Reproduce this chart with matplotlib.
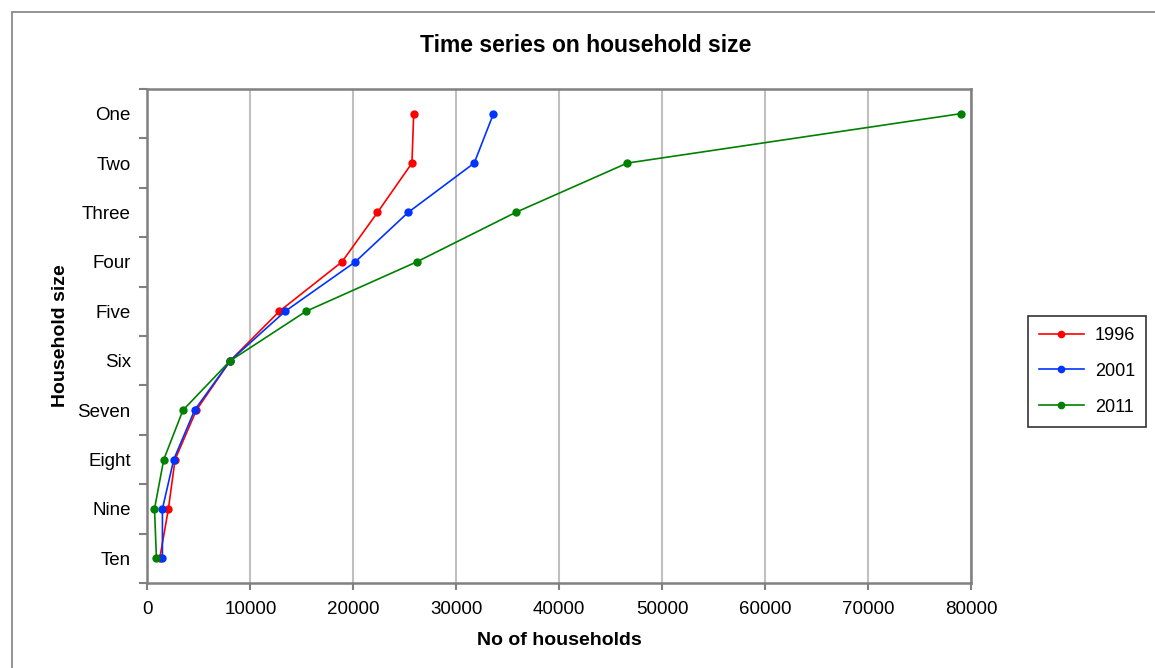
import matplotlib
matplotlib.use("Agg")
import matplotlib.pyplot as plt
from matplotlib.patches import Rectangle
import numpy as np

plt.rcParams['font.family'] = ['Liberation Sans', 'DejaVu Sans']

sizes = ["One", "Two", "Three", "Four", "Five", "Six", "Seven", "Eight", "Nine", "Ten"]
years = ["1996", "2001", "2011"]
hh_1996 = [25860, 25690, 22340, 18890, 12810, 8040, 4750, 2680, 2030, 1190]
hh_2001 = [33610, 31740, 25310, 20180, 13370, 8040, 4580, 2550, 1450, 1450]
hh_2011 = [79000, 46600, 35750, 26150, 15400, 8040, 3450, 1580, 680, 870]
colours = ["#ff0000", "#0033ff", "#008000"]

fig = plt.figure(figsize=(11.55, 6.68), dpi=100)
ax = fig.add_axes([0.1277, 0.1272, 0.8407 - 0.1277, 0.8668 - 0.1272])

# outer chart frame
fig.patches.append(Rectangle((12 / 1155, -0.05), 1.2, 1 - 12 / 668 + 0.05,
                             transform=fig.transFigure, fill=False,
                             edgecolor="#808080", lw=1.2))

ypos = np.arange(1, len(sizes) + 1)
for vals, yr, col in zip([hh_1996, hh_2001, hh_2011], years, colours):
    ax.plot(vals, ypos, color=col, lw=1.2, marker="o", ms=5, label=yr)

ax.set_xlim(0, 80000)
ax.set_ylim(10.5, 0.5)
ax.set_xticks(np.arange(0, 80001, 10000))
ax.tick_params(axis="x", labelsize=13.5, length=5, width=1.5,
               color="#808080", direction="out", pad=8)

# category axis: labels in the middle, ticks on the boundaries
ax.set_yticks(np.arange(0.5, 11, 1))
ax.set_yticklabels([])
ax.set_yticks(ypos, minor=True)
ax.set_yticklabels(sizes, minor=True)
ax.tick_params(axis="y", which="major", length=6, width=1.5,
               color="#808080", direction="out")
ax.tick_params(axis="y", which="minor", length=0, labelsize=13.5, pad=12)

ax.grid(axis="x", color="#c0c0c0", lw=1.5)
ax.set_axisbelow(True)
for side in ["left", "bottom", "top", "right"]:
    ax.spines[side].set_color("#808080")
    ax.spines[side].set_linewidth(1.8)

ax.set_xlabel("No of households", fontsize=14, fontweight="bold", labelpad=10)
ax.set_ylabel("Household size", fontsize=14, fontweight="bold", labelpad=6)
fig.text(586 / 1155, 1 - 46 / 668, "Time series on household size",
         ha="center", va="center", fontsize=16.5, fontweight="bold")

leg = ax.legend(loc="upper left", bbox_to_anchor=(1028 / 1155, 1 - 316 / 668),
                bbox_transform=fig.transFigure, borderaxespad=0,
                fontsize=13, frameon=True, fancybox=False, edgecolor="black",
                handlelength=2.5, handletextpad=0.6, borderpad=0.6,
                labelspacing=1.05, markerscale=0.9)
leg.get_frame().set_linewidth(1.2)

fig.savefig("out.png", dpi=100, facecolor="white")
